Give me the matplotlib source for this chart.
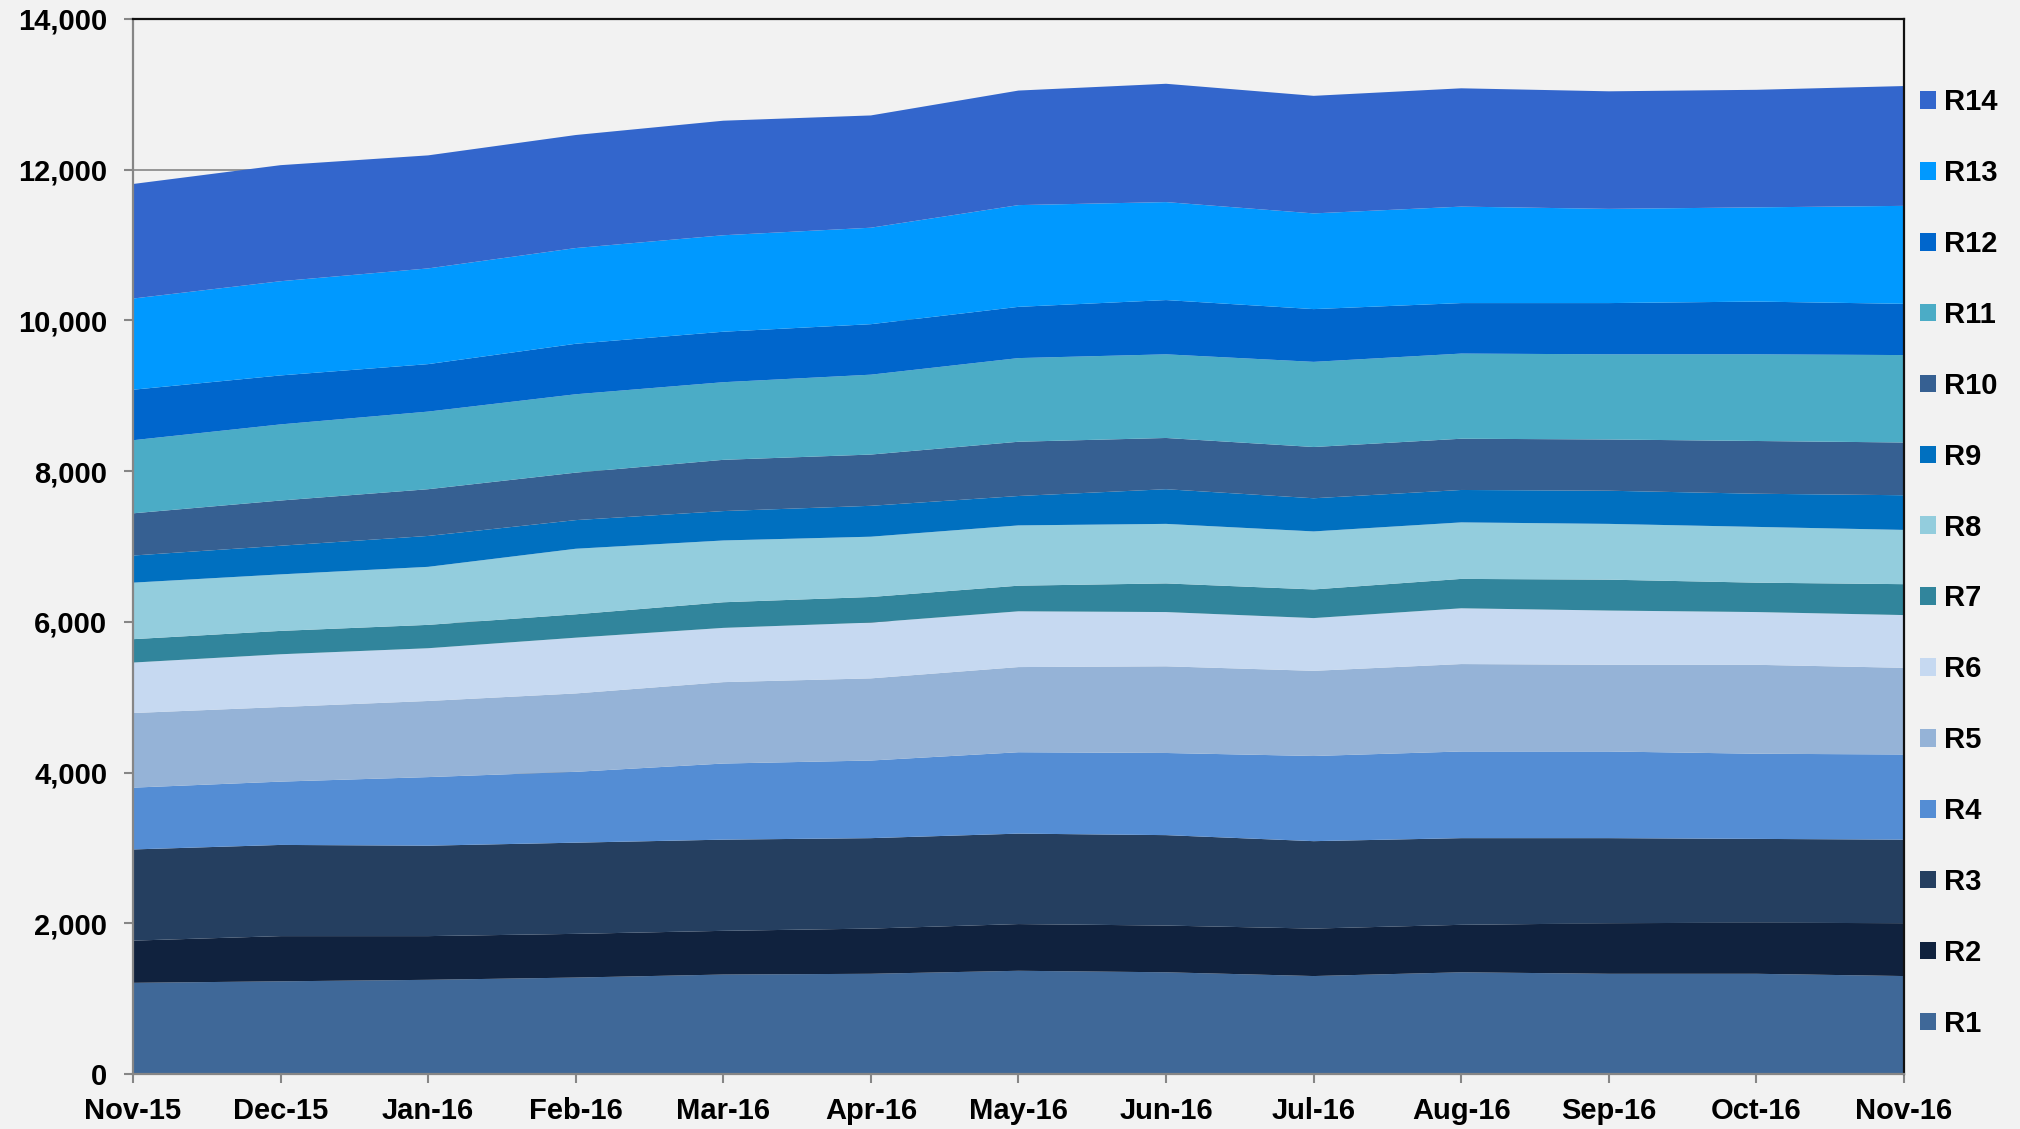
import matplotlib.pyplot as plt
import numpy as np
from matplotlib.ticker import FuncFormatter

# Meses (eixo x)
meses = ['Nov-15', 'Dec-15', 'Jan-16', 'Feb-16', 'Mar-16', 'Apr-16', 'May-16',
         'Jun-16', 'Jul-16', 'Aug-16', 'Sep-16', 'Oct-16', 'Nov-16']

# Valores de cada série
r1 = [1210, 1230, 1250, 1280, 1320, 1330, 1370, 1350, 1300, 1350, 1330, 1330, 1300]
r2 = [560, 600, 580, 580, 580, 600, 620, 620, 630, 630, 670, 680, 700]
r3 = [1210, 1210, 1200, 1210, 1210, 1200, 1200, 1200, 1160, 1150, 1130, 1110, 1110]
r4 = [820, 840, 910, 940, 1010, 1030, 1080, 1090, 1130, 1150, 1150, 1130, 1130]
r5 = [990, 990, 1010, 1040, 1080, 1090, 1130, 1150, 1130, 1160, 1150, 1180, 1150]
r6 = [670, 700, 700, 740, 720, 740, 740, 720, 700, 740, 720, 700, 700]
r7 = [310, 310, 310, 310, 340, 340, 340, 380, 380, 390, 410, 390, 410]
r8 = [750, 750, 770, 870, 820, 800, 800, 790, 770, 750, 740, 740, 720]
r9 = [360, 380, 410, 380, 390, 410, 390, 460, 440, 430, 440, 440, 460]
r10 = [560, 600, 620, 630, 680, 680, 720, 680, 680, 680, 680, 700, 700]
r11 = [970, 1010, 1030, 1040, 1030, 1060, 1110, 1110, 1130, 1130, 1130, 1150, 1160]
r12 = [670, 650, 630, 670, 670, 670, 680, 720, 700, 670, 680, 700, 680]
r13 = [1210, 1250, 1270, 1270, 1280, 1280, 1350, 1300, 1270, 1280, 1250, 1250, 1300]
r14 = [1520, 1540, 1500, 1500, 1520, 1490, 1520, 1570, 1560, 1570, 1560, 1560, 1590]

series = [r1, r2, r3, r4, r5, r6, r7, r8, r9, r10, r11, r12, r13, r14]
nomes = ['R%d' % (i + 1) for i in range(len(series))]
cores = ['#3F6898', '#10223E', '#253F60', '#548DD4', '#95B3D7', '#C6D9F1', '#31859C',
         '#93CDDD', '#0070C0', '#366092', '#4BACC6', '#0066CC', '#0099FF', '#3366CC']

fundo = '#F2F2F2'
cinza = '#868686'

plt.rcParams['font.family'] = ['Liberation Sans', 'DejaVu Sans']
plt.rcParams['font.weight'] = 'bold'

fig = plt.figure(figsize=(20.2, 11.29), dpi=100, facecolor=fundo)
ax = fig.add_axes([0.0658, 0.0487, 0.8768, 0.9345])
ax.set_facecolor(fundo)

x = np.arange(len(meses))
polys = ax.stackplot(x, *series, labels=nomes, colors=cores, linewidth=0)

ax.set_xlim(0, len(meses) - 1)
ax.set_ylim(0, 14000)
ax.set_yticks(np.arange(0, 14001, 2000))
ax.yaxis.set_major_formatter(FuncFormatter(lambda v, p: f'{int(v):,}'))
ax.set_xticks(x)
ax.set_xticklabels(meses)

ax.set_axisbelow(True)
ax.grid(axis='y', color=cinza, linewidth=1.2)
ax.grid(axis='x', visible=False)

for lado in ['left', 'bottom']:
    ax.spines[lado].set_color(cinza)
    ax.spines[lado].set_linewidth(1.6)
for lado in ['top', 'right']:
    ax.spines[lado].set_color('#111111')
    ax.spines[lado].set_linewidth(1.6)

ax.tick_params(axis='both', direction='out', length=6.5, width=1.5, color=cinza,
               labelsize=21)
ax.tick_params(axis='y', pad=12)
ax.tick_params(axis='x', pad=10)

# Legenda na ordem inversa (R14 no topo)
handles, labels = ax.get_legend_handles_labels()
fig.legend(handles[::-1], labels[::-1], loc='center left',
           bbox_to_anchor=(0.9505, 0.5013), frameon=False, fontsize=21,
           borderpad=0, borderaxespad=0, handlelength=0.55, handleheight=0.55,
           handletextpad=0.28, labelspacing=1.47)

plt.savefig('out.png', dpi=100, facecolor=fundo)
plt.close()
